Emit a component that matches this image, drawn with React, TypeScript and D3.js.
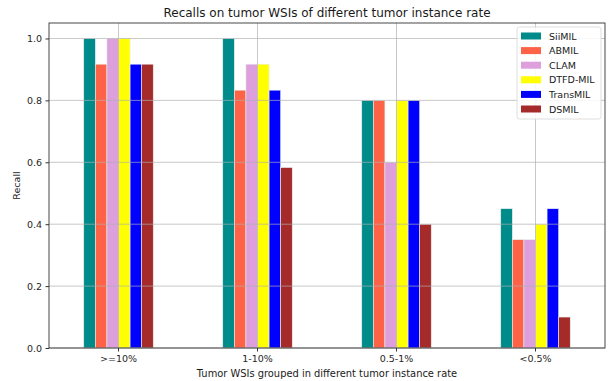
import React, { useRef, useEffect } from 'react';
import * as d3 from 'd3';

const WIDTH = 610;
const HEIGHT = 381;
const MARGIN = { top: 23, right: 5, bottom: 33, left: 49 };

const categories = ['>=10%', '1-10%', '0.5-1%', '<0.5%'];
const methods = ['SiiMIL', 'ABMIL', 'CLAM', 'DTFD-MIL', 'TransMIL', 'DSMIL'];
const colors = ['#008b8b', '#ff6347', '#dda0dd', '#ffff00', '#0000ff', '#a52a2a'];

// recall per method, one entry per category
const siimil = [1.0, 1.0, 0.8, 0.45];
const abmil = [0.917, 0.833, 0.8, 0.35];
const clam = [1.0, 0.917, 0.6, 0.35];
const dtfd = [1.0, 0.917, 0.8, 0.4];
const transmil = [0.917, 0.833, 0.8, 0.45];
const dsmil = [0.917, 0.583, 0.4, 0.1];

const yTicks = [0, 0.2, 0.4, 0.6, 0.8, 1.0];

const FONT = 'DejaVu Sans, sans-serif';

export default function App() {
  const svgRef = useRef<SVGSVGElement>(null);

  useEffect(() => {
    const series = [siimil, abmil, clam, dtfd, transmil, dsmil];
    const innerW = WIDTH - MARGIN.left - MARGIN.right;
    const innerH = HEIGHT - MARGIN.top - MARGIN.bottom;

    const x0 = d3.scaleBand<string>()
      .domain(categories)
      .range([0, innerW])
      .paddingInner(0.5)
      .paddingOuter(0.25);

    const x1 = d3.scaleBand<string>()
      .domain(methods)
      .range([0, x0.bandwidth()]);

    const y = d3.scaleLinear().domain([0, 1.05]).range([innerH, 0]);

    const svg = d3.select(svgRef.current);
    svg.selectAll('*').remove();

    svg.append('rect').attr('width', WIDTH).attr('height', HEIGHT).attr('fill', '#fff');

    const g = svg.append('g').attr('transform', `translate(${MARGIN.left},${MARGIN.top})`);

    // Bars
    const rows = categories.map((c, i) => ({
      cat: c,
      vals: methods.map((m, j) => ({ method: m, value: series[j][i], color: colors[j] })),
    }));

    g.selectAll('g.grp')
      .data(rows)
      .join('g')
      .attr('class', 'grp')
      .attr('transform', d => `translate(${x0(d.cat)},0)`)
      .selectAll('rect')
      .data(d => d.vals)
      .join('rect')
      .attr('x', d => x1(d.method)!)
      .attr('width', x1.bandwidth())
      .attr('y', d => y(d.value))
      .attr('height', d => innerH - y(d.value))
      .attr('fill', d => d.color)
      .attr('stroke', '#e8f0f0')
      .attr('stroke-width', 0.6);

    // Grid (drawn on top of bars)
    g.append('g')
      .selectAll('line')
      .data(yTicks)
      .join('line')
      .attr('x1', 0).attr('x2', innerW)
      .attr('y1', d => y(d)).attr('y2', d => y(d))
      .attr('stroke', '#b0b0b0').attr('stroke-width', 0.8).attr('opacity', 0.85);

    g.append('g')
      .selectAll('line')
      .data(categories)
      .join('line')
      .attr('x1', d => x0(d)! + x0.bandwidth() / 2)
      .attr('x2', d => x0(d)! + x0.bandwidth() / 2)
      .attr('y1', 0).attr('y2', innerH)
      .attr('stroke', '#b0b0b0').attr('stroke-width', 0.8).attr('opacity', 0.85);

    // Axes
    const xAxis = d3.axisBottom(x0).tickSize(3.5).tickPadding(3.5);
    const yAxis = d3.axisLeft(y).tickValues(yTicks).tickFormat(d3.format('.1f')).tickSize(3.5).tickPadding(3.5);

    g.append('g').attr('transform', `translate(0,${innerH})`).call(xAxis)
      .call(a => a.select('.domain').remove())
      .call(a => a.selectAll('text').attr('fill', '#262626').attr('font-size', 9.5).attr('font-family', FONT))
      .call(a => a.selectAll('line').attr('stroke', '#333'));

    g.append('g').call(yAxis)
      .call(a => a.select('.domain').remove())
      .call(a => a.selectAll('text').attr('fill', '#262626').attr('font-size', 9.5).attr('font-family', FONT))
      .call(a => a.selectAll('line').attr('stroke', '#333'));

    // Frame
    g.append('rect')
      .attr('width', innerW).attr('height', innerH)
      .attr('fill', 'none').attr('stroke', '#333').attr('stroke-width', 0.9);

    // Titles
    svg.append('text')
      .attr('x', MARGIN.left + innerW / 2).attr('y', 17)
      .attr('text-anchor', 'middle').attr('font-size', 12).attr('font-family', FONT).attr('fill', '#1a1a1a')
      .text('Recalls on tumor WSIs of different tumor instance rate');

    svg.append('text')
      .attr('x', MARGIN.left + innerW / 2).attr('y', 377)
      .attr('text-anchor', 'middle').attr('font-size', 9.9).attr('font-family', FONT).attr('fill', '#1a1a1a')
      .text('Tumor WSIs grouped in different tumor instance rate');

    svg.append('text')
      .attr('transform', `translate(20,${MARGIN.top + innerH / 2}) rotate(-90)`)
      .attr('text-anchor', 'middle').attr('font-size', 9.5).attr('font-family', FONT).attr('fill', '#1a1a1a')
      .text('Recall');

    // Legend
    const lg = svg.append('g').attr('transform', 'translate(517,27)');
    lg.append('rect')
      .attr('width', 84).attr('height', 92).attr('rx', 2.5)
      .attr('fill', '#fff').attr('fill-opacity', 0.85)
      .attr('stroke', '#d6d6d6').attr('stroke-width', 0.8);

    const item = lg.selectAll('g.item')
      .data(methods)
      .join('g')
      .attr('class', 'item')
      .attr('transform', (d, i) => `translate(4,${9 + i * 14.6})`);

    item.append('rect')
      .attr('x', 0).attr('y', -3.5).attr('width', 20).attr('height', 7)
      .attr('fill', (d, i) => colors[i]);

    item.append('text')
      .attr('x', 28).attr('y', 3.5)
      .attr('font-size', 9.5).attr('font-family', FONT).attr('fill', '#1a1a1a')
      .text(d => d);
  }, []);

  return (
    <svg
      ref={svgRef}
      width={WIDTH}
      height={HEIGHT}
      style={{ position: 'absolute', left: 0, top: 0 }}
    />
  );
}
